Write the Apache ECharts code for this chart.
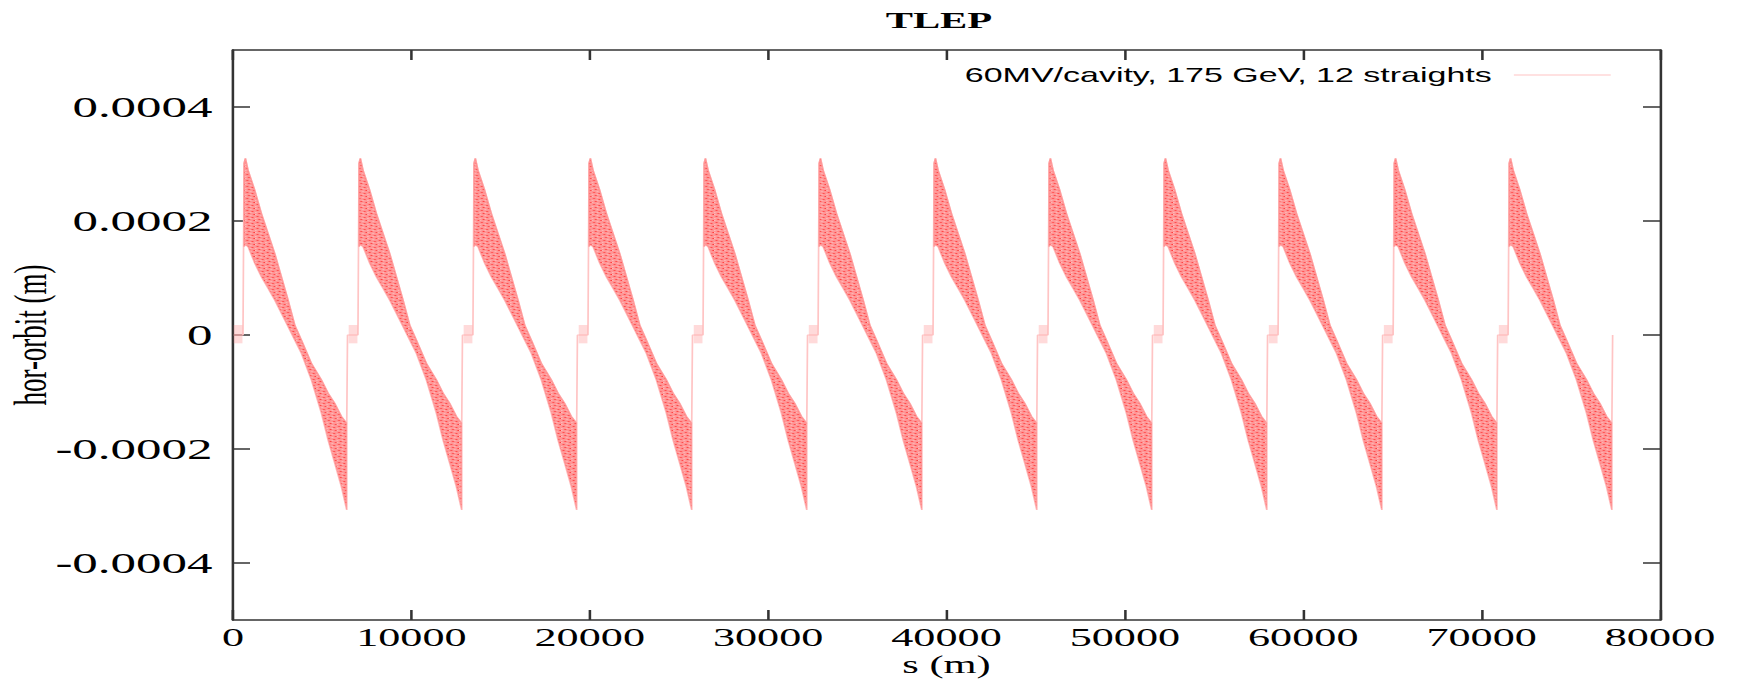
<!DOCTYPE html>
<html>
<head>
<meta charset="utf-8">
<title>TLEP</title>
<script src="https://cdn.jsdelivr.net/npm/echarts@6/dist/echarts.min.js"></script>
<style>
  html, body { margin: 0; padding: 0; background: #fff; overflow: hidden; }
  #wrap { width: 1738px; height: 679px; overflow: hidden; }
  /* the reference is a gnuplot picture stretched sideways, so draw narrow and stretch */
  #chart { width: 1022px; height: 679px; transform: scaleX(1.7); transform-origin: 0 0; }
</style>
</head>
<body>
<div id="wrap"><div id="chart"></div></div>
<script>
const seriesName = "60MV/cavity, 175 GeV, 12 straights";

// x ticks and y ticks as printed
const xTicks = [0, 10000, 20000, 30000, 40000, 50000, 60000, 70000, 80000];
const yTicks = [-0.0004, -0.0002, 0, 0.0002, 0.0004];

// where each arc begins (s, m)
const arcStart = [620, 7065, 13510, 19960, 26410, 32860, 39305, 45750, 52200, 58650, 65100, 71545];

// one arc: envelope of the orbit band vs distance from arc start
const arcOffset = [0, 75, 224, 598, 972, 1346, 1719, 2093, 2467, 2841, 3215, 3775, 4336, 4710, 5084, 5457, 5757];
const arcUpper = [0.000301, 0.000310, 0.000289, 0.000254, 0.000213, 0.000178, 0.000143, 0.000102, 0.0000614,
  0.0000175, -0.0000088, -0.0000497, -0.0000789, -0.000102, -0.000120, -0.000143, -0.000155];
const arcLower = [0.000155, 0.000158, 0.000155, 0.000126, 0.000102, 0.0000819, 0.0000614, 0.0000380, 0.0000146,
  -0.0000088, -0.0000322, -0.0000789, -0.000137, -0.000184, -0.000225, -0.000266, -0.000307];

// straight section before each arc: small band around zero
const straightFrom = -580;
const straightTo = -90;
const straightHigh = 0.0000175;
const straightLow = -0.0000146;
const jumpAt = -60;
const arcEndJump = 5800;

const orbitLine = [];
arcStart.forEach((s0) => {
  orbitLine.push([s0 + straightFrom, 0], [s0 + jumpAt, 0]);
  arcOffset.forEach((d, i) => orbitLine.push([s0 + d, arcUpper[i]]));
  orbitLine.push([s0 + arcEndJump, 0]);
});

// speckled red fill, like many overlapping thin lines
function makeSpeckle() {
  const c = document.createElement("canvas");
  c.width = 6;
  c.height = 6;
  const ctx = c.getContext("2d");
  ctx.fillStyle = "#ff9696";
  ctx.fillRect(0, 0, 6, 6);
  ctx.fillStyle = "#ff3c3c";
  [[1, 0], [4, 1], [2, 3], [5, 4]].forEach((p) => ctx.fillRect(p[0], p[1], 1, 1));
  ctx.fillStyle = "#ffb8b8";
  [[3, 2], [0, 2], [3, 5], [0, 4]].forEach((p) => ctx.fillRect(p[0], p[1], 1, 1));
  return c;
}
const speckle = { image: makeSpeckle(), repeat: "repeat", imageWidth: 6, imageHeight: 6 };

const axisColor = "#333";
const serif = "Liberation Serif";

const chart = echarts.init(document.getElementById("chart"), null, { renderer: "svg" });

chart.setOption({
  animation: false,
  backgroundColor: "#fff",
  textStyle: { fontFamily: serif, color: "#000" },
  title: {
    text: "TLEP",
    left: 516,
    top: 3,
    textStyle: { fontFamily: serif, fontWeight: "bold", fontSize: 24, color: "#000" }
  },
  legend: {
    data: [seriesName],
    right: 69,
    top: 60,
    align: "right",
    itemWidth: 57,
    itemHeight: 14,
    itemStyle: { opacity: 0 },
    lineStyle: { width: 1, color: "#ffc4c4" },
    textStyle: { fontFamily: "Liberation Sans", fontSize: 20, color: "#000", padding: [0, 8, 0, 0] }
  },
  grid: { left: 137.06, right: 45.53, top: 50, bottom: 59, containLabel: false, outerBoundsMode: "none" },
  xAxis: [
    {
      type: "value",
      min: 0,
      max: 80000,
      interval: 10000,
      name: "s (m)",
      nameLocation: "middle",
      nameGap: 32,
      nameMoveOverlap: false,
      nameTextStyle: { fontFamily: serif, fontSize: 25, color: "#000" },
      axisLine: { show: true, onZero: false, lineStyle: { color: axisColor, width: 1.5 } },
      axisTick: { show: true, inside: true, length: 10, lineStyle: { color: axisColor, width: 1.5 } },
      axisLabel: {
        fontFamily: serif, fontSize: 26, color: "#000", margin: 4,
        formatter: (v) => String(v)
      },
      splitLine: { show: false }
    },
    {
      type: "value",
      position: "top",
      min: 0,
      max: 80000,
      interval: 10000,
      axisLine: { show: true, onZero: false, lineStyle: { color: axisColor, width: 1.5 } },
      axisTick: { show: true, inside: true, length: 10, lineStyle: { color: axisColor, width: 1.5 } },
      axisLabel: { show: false },
      splitLine: { show: false }
    }
  ],
  yAxis: [
    {
      type: "value",
      min: -0.0005,
      max: 0.0005,
      name: "hor-orbit (m)",
      nameLocation: "middle",
      nameGap: 106,
      nameMoveOverlap: false,
      nameTextStyle: { fontFamily: serif, fontSize: 27, color: "#000" },
      axisLine: { show: true, onZero: false, lineStyle: { color: axisColor, width: 1.5 } },
      axisTick: { show: true, inside: true, length: 10, customValues: yTicks, lineStyle: { color: axisColor, width: 1.5 } },
      axisLabel: {
        fontFamily: serif, fontSize: 30, color: "#000", margin: 12,
        customValues: yTicks,
        formatter: (v) => String(v)
      },
      splitLine: { show: false }
    },
    {
      type: "value",
      position: "right",
      min: -0.0005,
      max: 0.0005,
      axisLine: { show: true, onZero: false, lineStyle: { color: axisColor, width: 1.5 } },
      axisTick: { show: true, inside: true, length: 10, customValues: yTicks, lineStyle: { color: axisColor, width: 1.5 } },
      axisLabel: { show: false, customValues: yTicks },
      splitLine: { show: false }
    }
  ],
  series: [
    {
      name: seriesName,
      type: "line",
      data: orbitLine,
      showSymbol: false,
      symbol: "none",
      lineStyle: { color: "#ffc4c4", width: 1 },
      itemStyle: { color: "#ffc4c4" },
      z: 2
    },
    {
      name: "band",
      type: "custom",
      data: arcStart.map((s) => [s, 0]),
      z: 3,
      renderItem: function (params, api) {
        const s0 = api.value(0);
        const top = arcOffset.map((d, i) => api.coord([s0 + d, arcUpper[i]]));
        const bottom = arcOffset.map((d, i) => api.coord([s0 + d, arcLower[i]])).reverse();
        const zone = [
          api.coord([s0 + straightFrom, straightHigh]),
          api.coord([s0 + straightTo, straightHigh]),
          api.coord([s0 + straightTo, straightLow]),
          api.coord([s0 + straightFrom, straightLow])
        ];
        return {
          type: "group",
          children: [
            { type: "polygon", shape: { points: zone }, style: { fill: "rgba(255,150,150,0.35)" } },
            {
              type: "polygon",
              shape: { points: top.concat(bottom) },
              style: { fill: speckle, stroke: "rgba(255,140,140,0.6)", lineWidth: 1 }
            }
          ]
        };
      }
    }
  ]
});
</script>
</body>
</html>
